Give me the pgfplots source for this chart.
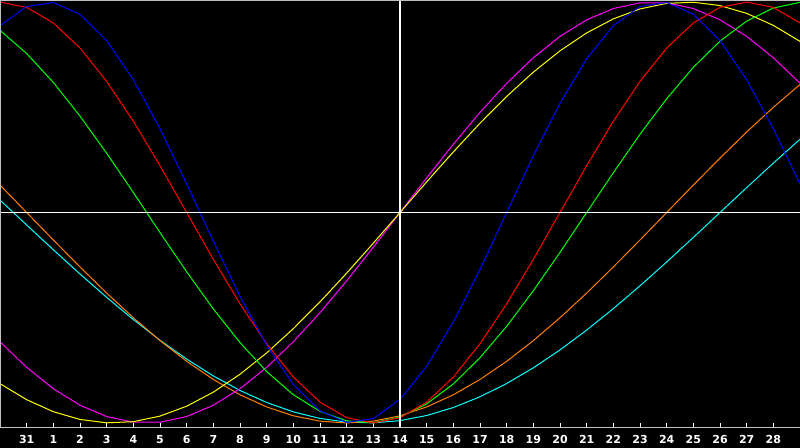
\documentclass[border=0pt]{standalone}
\usepackage{fontspec}
\setmainfont{DejaVu Sans}
\usepackage{pgfplots}
\usepackage{pgfplotstable}
\pgfplotsset{compat=1.18}

\definecolor{axgray}{RGB}{192,192,192}
\definecolor{cblue}{RGB}{0,0,255}
\definecolor{cred}{RGB}{255,0,0}
\definecolor{cgreen}{RGB}{0,255,0}
\definecolor{cmagenta}{RGB}{255,0,255}
\definecolor{cyellow}{RGB}{255,255,0}
\definecolor{corange}{RGB}{255,128,0}
\definecolor{ccyan}{RGB}{0,255,255}

% day index (0..30) and the seven cycles
\pgfplotstableread{
k  blue    red     green   magenta yellow  orange  cyan
0  0.8879  1       0.8660  -0.6142 -0.8133 0.1305  0.0592
1  0.9791  0.9749  0.7557  -0.7357 -0.8894 0       -0.0592
2  0.9977  0.9010  0.6182  -0.8372 -0.9465 -0.1305 -0.1769
3  0.9423  0.7818  0.4582  -0.9158 -0.9834 -0.2588 -0.2921
4  0.8170  0.6235  0.2817  -0.9694 -0.9993 -0.3827 -0.4031
5  0.6310  0.4339  0.0951  -0.9966 -0.9940 -0.5    -0.5086
6  0.3984  0.2225  -0.0951 -0.9966 -0.9675 -0.6088 -0.6068
7  0.1362  0       -0.2817 -0.9694 -0.9203 -0.7071 -0.6966
8  -0.1362 -0.2225 -0.4582 -0.9158 -0.8536 -0.7934 -0.7765
9  -0.3984 -0.4339 -0.6182 -0.8372 -0.7685 -0.8660 -0.8456
10 -0.6310 -0.6235 -0.7557 -0.7357 -0.6672 -0.9239 -0.9028
11 -0.8170 -0.7818 -0.8660 -0.6142 -0.5518 -0.9659 -0.9473
12 -0.9423 -0.9010 -0.9450 -0.4759 -0.4244 -0.9914 -0.9786
13 -0.9977 -0.9749 -0.9898 -0.3247 -0.2881 -1      -0.9960
14 -0.9791 -1      -0.9989 -0.1646 -0.1456 -0.9914 -0.9996
15 -0.8879 -0.9749 -0.9718 0       0       -0.9659 -0.9890
16 -0.7308 -0.9010 -0.9096 0.1646  0.1456  -0.9239 -0.9646
17 -0.5196 -0.7818 -0.8146 0.3247  0.2881  -0.8660 -0.9267
18 -0.2698 -0.6235 -0.6901 0.4759  0.4244  -0.7934 -0.8757
19 0       -0.4339 -0.5406 0.6142  0.5518  -0.7071 -0.8125
20 0.2698  -0.2225 -0.3717 0.7357  0.6672  -0.6088 -0.7379
21 0.5196  0       -0.1893 0.8372  0.7685  -0.5    -0.6529
22 0.7308  0.2225  0       0.9158  0.8536  -0.3827 -0.5586
23 0.8879  0.4339  0.1893  0.9694  0.9203  -0.2588 -0.4566
24 0.9791  0.6235  0.3717  0.9966  0.9675  -0.1305 -0.3482
25 0.9977  0.7818  0.5406  0.9966  0.9940  0       -0.2349
26 0.9423  0.9010  0.6901  0.9694  0.9993  0.1305  -0.1183
27 0.8170  0.9749  0.8146  0.9158  0.9834  0.2588  0
28 0.6310  1       0.9096  0.8372  0.9465  0.3827  0.1183
29 0.3984  0.9749  0.9718  0.7357  0.8894  0.5     0.2349
30 0.1362  0.9010  0.9989  0.6142  0.8133  0.6088  0.3482
}\bio

\begin{document}
\begin{tikzpicture}
\fill[black] (0bp,0bp) rectangle (800bp,448bp);
\useasboundingbox (0bp,0bp) rectangle (800bp,448bp);
\begin{axis}[
    at={(0bp,20bp)}, anchor=south west,
    scale only axis,
    width=800bp, height=428bp,
    xmin=0, xmax=30,
    ymin=-1.024, ymax=1.01,
    axis line style={draw=none},
    xtick={1,...,29},
    xticklabels={31,1,2,3,4,5,6,7,8,9,10,11,12,13,14,15,16,17,18,19,20,21,22,23,24,25,26,27,28},
    ytick=\empty,
    tick pos=left,
    tick align=inside,
    major tick length=5bp,
    tick style={white, line width=1bp},
    xticklabel style={text=white, inner sep=0pt, yshift=-7bp,
        font=\bfseries\fontsize{11bp}{13bp}\selectfont},
    every axis plot/.append style={line width=1bp},
]
\addplot[ccyan]    table[x=k, y=cyan]    {\bio};
\addplot[corange]  table[x=k, y=orange]  {\bio};
\addplot[cmagenta] table[x=k, y=magenta] {\bio};
\addplot[cyellow]  table[x=k, y=yellow]  {\bio};
\addplot[cgreen]   table[x=k, y=green]   {\bio};
\addplot[cred]     table[x=k, y=red]     {\bio};
\addplot[cblue]    table[x=k, y=blue]    {\bio};

% crosshair
\draw[white, line width=1.3bp] (axis cs:15,-1.024) -- (axis cs:15,1.01);
\draw[white, line width=1.3bp] (axis cs:0,0) -- (axis cs:30,0);

% frame
\draw[axgray, line width=2bp] (rel axis cs:0,0) -- (rel axis cs:0,1) -- (rel axis cs:1,1);
\draw[axgray, line width=2bp] (rel axis cs:0,0) -- (rel axis cs:1,0);
\end{axis}
\end{tikzpicture}
\end{document}
